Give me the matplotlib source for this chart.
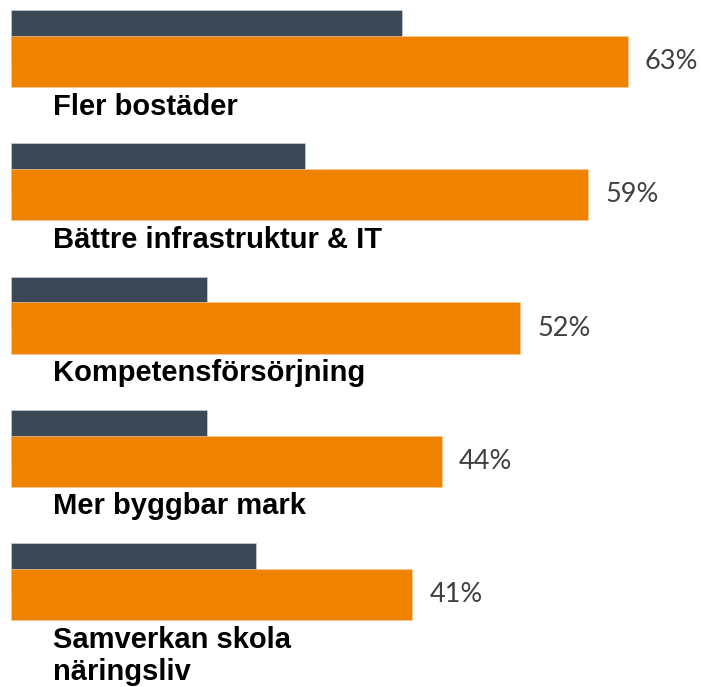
import matplotlib
matplotlib.use("Agg")
import matplotlib.pyplot as plt
import numpy as np

categories = ["Fler bostäder", "Bättre infrastruktur & IT", "Kompetensförsörjning",
              "Mer byggbar mark", "Samverkan skola\nnäringsliv"]
orange_values = [63, 59, 52, 44, 41]
dark_values = [40, 30, 20, 20, 25]

ORANGE = "#EF8200"
DARK = "#3B4956"

fig = plt.figure(figsize=(7.01, 6.87), dpi=100)
ax = fig.add_axes([0, 0, 1, 1])

y = np.arange(len(categories))
h = 0.383
shift = 0.195
line_gap = 0.24  # one text line, in row units

ax.barh(y - shift, dark_values, height=h, color=DARK, edgecolor="#c9cdd8", linewidth=0.5, zorder=1)
ax.barh(y, orange_values, height=h, color=ORANGE, edgecolor="#f6c98f", linewidth=0.5, zorder=2)

for yi, v, lab in zip(y, orange_values, categories):
    ax.annotate(f"{v}%", xy=(v, yi), xytext=(12.5, 0), textcoords="offset points",
                va="center", ha="left", fontsize=19.5, color="#404040", family="Lato")
    # each line on its own baseline so the first one sits right under the bar
    for k, part in enumerate(lab.split("\n")):
        ax.text(4.29, yi + 0.398 + k * line_gap, part, ha="left", va="baseline",
                fontsize=21, fontweight="bold", family="Liberation Sans",
                color="black")

ax.set_xlim(-1.12, 70.5)
ax.set_ylim(4.694, -0.4615)
ax.axis("off")

fig.savefig("out.png", dpi=100)
